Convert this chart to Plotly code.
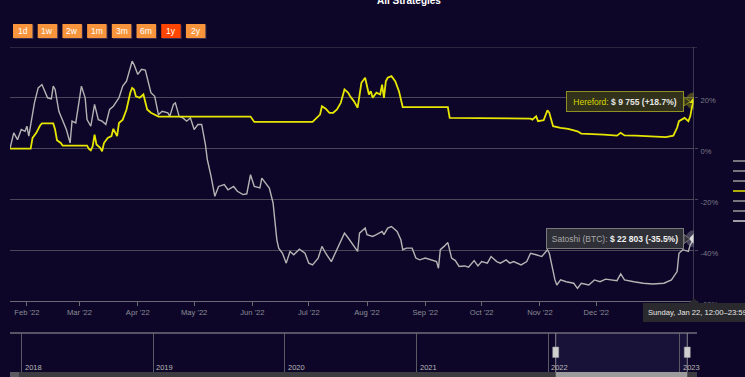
import plotly.graph_objects as go

# ---------------- data ----------------
sat_dates = ["2022-01-23","2022-01-25","2022-01-27","2022-01-29","2022-01-31","2022-02-01","2022-02-02","2022-02-04","2022-02-05","2022-02-07",
             "2022-02-09","2022-02-12","2022-02-14","2022-02-15","2022-02-16","2022-02-18","2022-02-20","2022-02-22","2022-02-24","2022-02-25",
             "2022-02-27","2022-03-02","2022-03-04","2022-03-05","2022-03-07","2022-03-09","2022-03-11","2022-03-13","2022-03-15","2022-03-17",
             "2022-03-19","2022-03-21","2022-03-22","2022-03-24","2022-03-26","2022-03-29","2022-03-30","2022-04-01","2022-04-03","2022-04-05",
             "2022-04-07","2022-04-08","2022-04-10","2022-04-12","2022-04-14","2022-04-17","2022-04-18","2022-04-20","2022-04-21","2022-04-23",
             "2022-04-25","2022-04-27","2022-04-29","2022-05-01","2022-05-03","2022-05-05","2022-05-07","2022-05-08","2022-05-10","2022-05-12",
             "2022-05-14","2022-05-17","2022-05-19","2022-05-22","2022-05-24","2022-05-27","2022-05-29","2022-05-31","2022-06-02","2022-06-05",
             "2022-06-06","2022-06-08","2022-06-10","2022-06-12","2022-06-14","2022-06-15","2022-06-17","2022-06-19","2022-06-21","2022-06-23",
             "2022-06-26","2022-06-29","2022-07-01","2022-07-03","2022-07-06","2022-07-08","2022-07-10","2022-07-13","2022-07-15","2022-07-17",
             "2022-07-20","2022-07-22","2022-07-24","2022-07-27","2022-07-28","2022-07-31","2022-08-01","2022-08-04","2022-08-06","2022-08-09",
             "2022-08-10","2022-08-12","2022-08-14","2022-08-17","2022-08-19","2022-08-20","2022-08-22","2022-08-25","2022-08-27","2022-08-29",
             "2022-09-01","2022-09-04","2022-09-07","2022-09-08","2022-09-09","2022-09-11","2022-09-13","2022-09-15","2022-09-17","2022-09-19",
             "2022-09-22","2022-09-24","2022-09-27","2022-09-29","2022-10-01","2022-10-04","2022-10-06","2022-10-09","2022-10-11","2022-10-14",
             "2022-10-16","2022-10-18","2022-10-22","2022-10-25","2022-10-27","2022-10-30","2022-11-02","2022-11-05","2022-11-06","2022-11-09",
             "2022-11-10","2022-11-12","2022-11-15","2022-11-19","2022-11-21","2022-11-23","2022-11-27","2022-11-30","2022-12-03","2022-12-06",
             "2022-12-08","2022-12-12","2022-12-14","2022-12-16","2022-12-21","2022-12-26","2022-12-31","2023-01-06","2023-01-10","2023-01-13",
             "2023-01-14","2023-01-16","2023-01-19","2023-01-20","2023-01-22"]
sat_vals = [0.0, 6.2, 3.5, 7.5, 6.8, 8.8, 4.9, 14.1, 18.0, 23.9,
            25.2, 20.0, 19.6, 24.6, 23.3, 14.7, 10.8, 7.5, 2.2, 10.8,
            10.1, 24.6, 20.0, 11.4, 8.8, 17.4, 11.4, 10.8, 9.5, 15.4,
            16.7, 18.7, 20.0, 24.6, 26.5, 34.4, 33.1, 29.2, 31.2, 30.9,
            24.6, 22.0, 20.6, 13.4, 14.7, 14.1, 12.7, 17.4, 18.0, 12.7,
            12.1, 10.8, 12.1, 7.5, 9.5, 9.5, 1.6, -4.3, -10.9, -18.8,
            -14.9, -14.2, -16.2, -14.9, -16.8, -18.1, -17.8, -10.3, -14.9, -15.5,
            -11.6, -13.5, -15.5, -21.4, -35.9, -39.2, -41.2, -45.1, -40.5, -41.8,
            -39.6, -41.2, -45.1, -45.8, -43.1, -38.5, -41.2, -44.5, -41.2, -38.5,
            -33.3, -35.2, -37.2, -40.5, -33.3, -31.3, -33.9, -34.6, -33.9, -32.6,
            -33.9, -31.3, -30.7, -32.6, -35.9, -39.8, -39.2, -39.2, -43.1, -43.8,
            -43.1, -43.8, -44.5, -47.1, -39.8, -38.5, -37.0, -43.1, -44.1, -46.4,
            -46.2, -46.7, -44.1, -46.2, -44.5, -45.1, -42.5, -44.5, -45.1, -43.8,
            -45.1, -44.5, -45.8, -44.5, -41.2, -41.8, -42.5, -39.8, -41.2, -51.7,
            -53.7, -51.7, -52.4, -53.0, -55.0, -53.0, -53.7, -51.7, -52.4, -51.4,
            -51.7, -52.0, -49.3, -51.7, -52.4, -53.0, -53.3, -53.0, -51.7, -48.4,
            -41.2, -39.8, -40.5, -37.9, -35.5]

her_dates = ["2022-01-23","2022-02-03","2022-02-04","2022-02-06","2022-02-08","2022-02-09","2022-02-15","2022-02-16","2022-02-17","2022-02-19",
             "2022-02-20","2022-03-05","2022-03-06","2022-03-07","2022-03-08","2022-03-09","2022-03-10","2022-03-12","2022-03-13","2022-03-14",
             "2022-03-16","2022-03-18","2022-03-19","2022-03-21","2022-03-22","2022-03-24","2022-03-26","2022-03-28","2022-03-29","2022-03-30",
             "2022-03-31","2022-04-02","2022-04-04","2022-04-06","2022-04-08","2022-04-10","2022-04-12","2022-05-31","2022-06-02","2022-07-03",
             "2022-07-05","2022-07-07","2022-07-08","2022-07-10","2022-07-12","2022-07-14","2022-07-16","2022-07-18","2022-07-20","2022-07-22",
             "2022-07-23","2022-07-25","2022-07-27","2022-07-28","2022-07-29","2022-07-31","2022-08-01","2022-08-02","2022-08-03","2022-08-04",
             "2022-08-06","2022-08-08","2022-08-09","2022-08-10","2022-08-11","2022-08-12","2022-08-14","2022-08-16","2022-08-18","2022-08-20",
             "2022-09-13","2022-09-14","2022-10-27","2022-10-28","2022-10-30","2022-10-31","2022-11-03","2022-11-05","2022-11-06","2022-11-08",
             "2022-11-12","2022-11-16","2022-11-21","2022-11-23","2022-12-05","2022-12-12","2022-12-14","2022-12-16","2022-12-22","2022-12-31",
             "2023-01-07","2023-01-11","2023-01-13","2023-01-14","2023-01-17","2023-01-19","2023-01-20","2023-01-21","2023-01-22"]
her_vals = [0.0, 0.0, 4.2, 6.2, 9.1, 9.9, 9.9, 7.5, 3.3, 2.2,
            1.2, 1.2, -0.1, -0.7, 0.9, 5.5, 1.6, 0.3, -1.1, 2.2,
            4.2, 4.9, 7.8, 4.9, 10.1, 11.4, 15.4, 22.0, 23.9, 23.3,
            20.6, 20.0, 21.3, 15.4, 14.1, 13.4, 12.6, 12.6, 10.5, 10.5,
            12.1, 13.4, 16.7, 15.7, 14.1, 14.1, 15.4, 18.0, 23.3, 22.0,
            20.6, 18.7, 16.1, 22.0, 25.9, 27.9, 24.6, 21.3, 22.6, 20.0,
            22.0, 21.3, 25.2, 20.0, 26.5, 27.9, 28.5, 26.5, 22.6, 16.3,
            16.3, 12.1, 11.8, 11.4, 12.7, 10.8, 11.2, 15.1, 14.1, 8.8,
            8.2, 7.8, 6.8, 5.9, 5.5, 5.1, 6.2, 5.2, 5.1, 4.6,
            4.5, 5.1, 8.2, 10.8, 12.1, 10.8, 12.7, 16.7, 18.7]

month_ticks = ["2022-02-01","2022-03-01","2022-04-01","2022-05-01","2022-06-01","2022-07-01",
               "2022-08-01","2022-09-01","2022-10-01","2022-11-01","2022-12-01"]
month_labels = ["Feb '22","Mar '22","Apr '22","May '22","Jun '22","Jul '22",
                "Aug '22","Sep '22","Oct '22","Nov '22","Dec '22"]
y_ticks = [-60, -40, -20, 0, 20]
y_labels = ["-60%", "-40%", "-20%", "0%", "20%"]
nav_years = ["2018-01-01","2019-01-01","2020-01-01","2021-01-01","2022-01-01","2023-01-01"]
nav_year_labels = ["2018","2019","2020","2021","2022","2023"]
buttons = ["1d","1w","2w","1m","3m","6m","1y","2y"]
active_button = "1y"
her_tip = "$ 9 755 (+18.7%)"
sat_tip = "$ 22 803 (-35.5%)"
date_tip = "Sunday, Jan 22, 12:00\u201323:59"

# ---------------- layout helpers ----------------
W, H = 745, 377
ML, MR, MT, MB = 10, 48, 47, 5
PW = W - ML - MR
PH = H - MT - MB
def px(x):
    return (x - ML) / PW
def py(y):
    return (H - MB - y) / PH

BG = "#0d0628"
GRID = "#4a4858"
FONT = "Liberation Sans, Arial, sans-serif"
YEL = "#e6e600"
GRY = "#b4b4b4"

fig = go.Figure()

fig.add_trace(go.Scatter(x=sat_dates, y=sat_vals, mode="lines", name="Satoshi (BTC)",
                         line=dict(color=GRY, width=1.4), xaxis="x", yaxis="y"))
fig.add_trace(go.Scatter(x=her_dates, y=her_vals, mode="lines", name="Hereford",
                         line=dict(color=YEL, width=1.8), xaxis="x", yaxis="y"))
# hover halos and markers at the last points
fig.add_trace(go.Scatter(x=[sat_dates[-1]], y=[sat_vals[-1]], mode="markers",
                         marker=dict(size=17, color="rgba(200,200,210,0.30)"), xaxis="x", yaxis="y"))
fig.add_trace(go.Scatter(x=[sat_dates[-1]], y=[sat_vals[-1]], mode="markers",
                         marker=dict(size=8, symbol="diamond", color="#dcdcdc"), xaxis="x", yaxis="y"))
fig.add_trace(go.Scatter(x=[her_dates[-1]], y=[her_vals[-1]], mode="markers",
                         marker=dict(size=17, color="rgba(230,230,0,0.30)"), xaxis="x", yaxis="y"))
fig.add_trace(go.Scatter(x=[her_dates[-1]], y=[her_vals[-1]], mode="markers",
                         marker=dict(size=8, symbol="triangle-up", color=YEL), xaxis="x", yaxis="y"))
# navigator placeholder
fig.add_trace(go.Scatter(x=[nav_years[0]], y=[0.5], mode="markers", marker=dict(opacity=0),
                         xaxis="x2", yaxis="y2", hoverinfo="skip"))

shapes = []
annotations = []

# 40% top gridline
shapes.append(dict(type="line", xref="paper", yref="y", x0=0, x1=px(697), y0=40, y1=40,
                   line=dict(color=GRID, width=1)))
# crosshair
shapes.append(dict(type="line", xref="x", yref="paper", x0=sat_dates[-1], x1=sat_dates[-1],
                   y0=py(301), y1=py(47), line=dict(color="#6a6a78", width=1)))

# range selector buttons
bx0, bw, bstep, by0, by1 = 13, 19.5, 24.7, 24, 38
for i, b in enumerate(buttons):
    x0 = bx0 + i * bstep
    col = "#ff4500" if b == active_button else "#f7943c"
    shapes.append(dict(type="rect", xref="paper", yref="paper", x0=px(x0 + 1), x1=px(x0 + bw + 1),
                       y0=py(by1 + 1), y1=py(by0 + 1), fillcolor="#3b2c4a", line=dict(width=0)))
    shapes.append(dict(type="rect", xref="paper", yref="paper", x0=px(x0), x1=px(x0 + bw),
                       y0=py(by1), y1=py(by0), fillcolor=col, line=dict(width=0)))
    annotations.append(dict(text=b, xref="paper", yref="paper", x=px(x0 + bw / 2), y=py((by0 + by1) / 2),
                            showarrow=False, xanchor="center", yanchor="middle",
                            font=dict(family=FONT, size=8.5, color="#ffffff")))

# title (cut off at top)
annotations.append(dict(text="<b>All Strategies</b>", xref="paper", yref="paper", x=px(409), y=py(1),
                        showarrow=False, xanchor="center", yanchor="middle",
                        font=dict(family=FONT, size=10, color="#ffffff")))

# Hereford tooltip
annotations.append(dict(text='<span style="color:#d8d800">Hereford:</span> <b>' + her_tip + '</b>',
                        xref="paper", yref="paper", x=px(684), y=py(101.5), xanchor="right", yanchor="middle",
                        showarrow=False, bgcolor="rgba(52,52,26,0.95)", bordercolor="#8f8f22", borderwidth=1,
                        borderpad=2, width=112, height=15,
                        font=dict(family=FONT, size=8.5, color="#e6e6e6")))
shapes.append(dict(type="path", xref="paper", yref="paper",
                   path=f"M {px(684)},{py(97)} L {px(690)},{py(101.5)} L {px(684)},{py(106)} Z",
                   fillcolor="rgba(52,52,26,0.95)", line=dict(color="#8f8f22", width=1)))
# Satoshi tooltip
annotations.append(dict(text='<span style="color:#a8a8a8">Satoshi (BTC):</span> <b>' + sat_tip + '</b>',
                        xref="paper", yref="paper", x=px(684), y=py(239), xanchor="right", yanchor="middle",
                        showarrow=False, bgcolor="rgba(50,50,56,0.95)", bordercolor="#7a7a7a", borderwidth=1,
                        borderpad=2, width=132, height=15,
                        font=dict(family=FONT, size=8.5, color="#f0f0f0")))
shapes.append(dict(type="path", xref="paper", yref="paper",
                   path=f"M {px(684)},{py(234.5)} L {px(690)},{py(239)} L {px(684)},{py(243.5)} Z",
                   fillcolor="rgba(50,50,56,0.95)", line=dict(color="#7a7a7a", width=1)))
# date tooltip
shapes.append(dict(type="path", xref="paper", yref="paper",
                   path=f"M {px(689)},{py(303)} L {px(694)},{py(298.5)} L {px(699)},{py(303)} Z",
                   fillcolor="#2a2a2e", line=dict(width=0)))
annotations.append(dict(text=date_tip, xref="paper", yref="paper", x=px(643), y=py(302.5),
                        xanchor="left", yanchor="top", showarrow=False, bgcolor="#2a2a2e",
                        bordercolor="#2a2a2e", borderwidth=1, borderpad=4,
                        font=dict(family=FONT, size=7.6, color="#e8e8e8")))

# navigator
NAV_T, NAV_B = 333, 372
sel0, sel1 = "2022-01-22", "2023-01-22"
shapes.append(dict(type="rect", xref="x2", yref="paper", x0=sel0, x1=sel1, y0=py(NAV_B), y1=py(NAV_T),
                   fillcolor="rgba(110,110,170,0.12)", line=dict(width=0), layer="below"))
shapes.append(dict(type="line", xref="paper", yref="paper", x0=0, x1=1, y0=py(NAV_T), y1=py(NAV_T),
                   line=dict(color="#6e6e78", width=1.5)))
for d in (sel0, sel1):
    shapes.append(dict(type="line", xref="x2", yref="paper", x0=d, x1=d, y0=py(NAV_B), y1=py(NAV_T),
                       line=dict(color="#8a8a94", width=1)))
    shapes.append(dict(type="rect", xref="x2", yref="paper", xsizemode="pixel", xanchor=d, x0=-3, x1=3,
                       y0=py(357.5), y1=py(347), fillcolor="#cfcfcf", line=dict(color="#9a9a9a", width=0.5)))
for d, lab in zip(nav_years, nav_year_labels):
    annotations.append(dict(text=lab, xref="x2", yref="paper", x=d, y=py(367.5), xanchor="left",
                            yanchor="middle", xshift=1, showarrow=False,
                            font=dict(family=FONT, size=7.5, color="#b8b8b8")))
# scrollbar
shapes.append(dict(type="rect", xref="paper", yref="paper", x0=0, x1=1, y0=py(377), y1=py(372),
                   fillcolor="#3c3c40", line=dict(width=0)))
shapes.append(dict(type="rect", xref="paper", yref="paper", x0=0, x1=px(19), y0=py(377), y1=py(372),
                   fillcolor="#5a5a60", line=dict(width=0)))
shapes.append(dict(type="rect", xref="x2", yref="paper", x0=sel0, x1=sel1, y0=py(377), y1=py(372),
                   fillcolor="#9c9c9c", line=dict(width=0)))

# legend symbols (text out of view)
for i, yy in enumerate([161, 171, 181, 191, 201, 211, 221]):
    col = YEL if i == 3 else ("#d0d0d0" if i == 6 else "#9a9a9a")
    shapes.append(dict(type="line", xref="paper", yref="paper", x0=px(733), x1=px(746), y0=py(yy), y1=py(yy),
                       line=dict(color=col, width=1.5)))

fig.update_layout(
    width=W, height=H,
    margin=dict(l=ML, r=MR, t=MT, b=MB, pad=0, autoexpand=False),
    paper_bgcolor=BG, plot_bgcolor=BG,
    showlegend=False, hovermode=False,
    font=dict(family=FONT, size=8, color="#8c8c8c"),
    xaxis=dict(domain=[0, (694 - ML) / PW], anchor="y", type="date", automargin=False,
               range=["2022-01-23", "2023-01-22"], showgrid=False, zeroline=False,
               showline=True, linecolor="#6a6a74", linewidth=1,
               ticks="outside", ticklen=4, tickcolor="#6a6a74",
               tickvals=month_ticks, ticktext=month_labels,
               tickfont=dict(family=FONT, size=7.6, color="#8c8c96")),
    yaxis=dict(domain=[py(301), 1], anchor="x", side="right", range=[-60, 40], automargin=False,
               showgrid=True, gridcolor=GRID, gridwidth=1, zeroline=False, showline=False,
               ticks="outside", ticklen=3, tickcolor=GRID,
               tickvals=y_ticks, ticktext=y_labels, ticklabelshift=3, ticklabelstandoff=1,
               tickfont=dict(family=FONT, size=7.6, color="#7c7c88")),
    xaxis2=dict(domain=[0, 1], anchor="y2", type="date", range=["2017-11-30", "2023-02-18"],
                automargin=False, showgrid=True, gridcolor="#5a5a64", gridwidth=1, zeroline=False,
                tickvals=nav_years, showticklabels=False, ticks="", showline=False),
    yaxis2=dict(domain=[0, py(NAV_T)], anchor="x2", range=[0, 1], showgrid=False, automargin=False,
                zeroline=False, showticklabels=False, ticks="", showline=False),
    shapes=shapes, annotations=annotations,
)

fig.write_html("out.html", config={"displayModeBar": False},
               post_script="document.body.style.margin='0';document.body.style.overflow='hidden';")
